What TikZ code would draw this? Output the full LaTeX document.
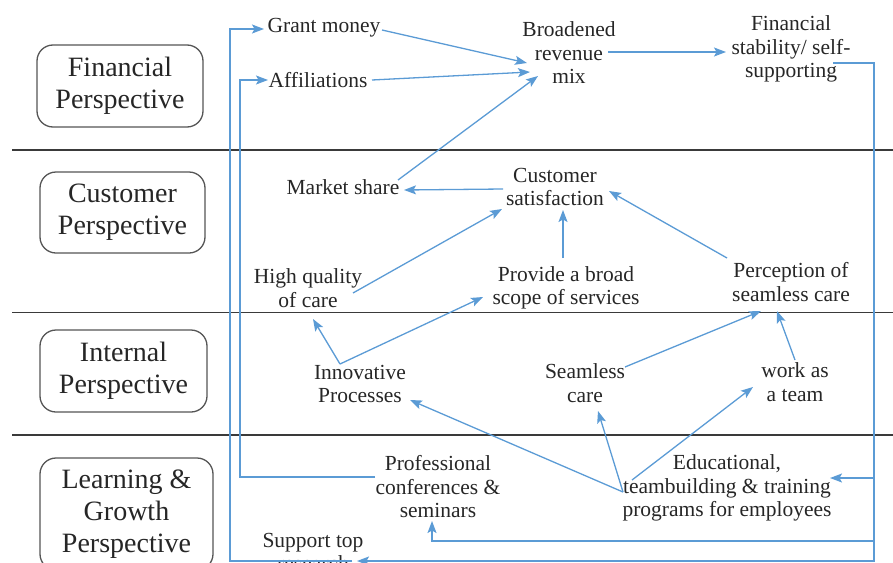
\documentclass[tikz,border=0pt]{standalone}
\usepackage{fontspec}
\setmainfont{Liberation Serif}
\usetikzlibrary{arrows.meta}
\definecolor{lnblue}{HTML}{5B9BD5}
\definecolor{rulegray}{HTML}{3A3A3A}
\definecolor{boxgray}{HTML}{555555}
\begin{document}
\begin{tikzpicture}[x=1pt,y=-1pt,
  persp/.style={draw=boxgray, line width=1.3pt, rounded corners=16pt, align=center, inner sep=0pt, font=\fontsize{28}{32}\selectfont, text=black!85},
  lbl/.style={align=center, inner sep=0pt, font=\fontsize{21.5}{23.5}\selectfont, text=black!85},
  rulel/.style={draw=rulegray, line width=1.6pt},
  link/.style={draw=lnblue, line width=1.3pt},
  arr/.style={link, -{Stealth[length=12pt,width=9pt,inset=2.5pt]}}]

\useasboundingbox (0,0) rectangle (893,562);
\clip (0,0) rectangle (893,562);

% lane rules
\draw[rulel] (12,150) -- (893,150);
\draw[rulel] (12,312.5) -- (893,312.5);
\draw[rulel] (12,435) -- (893,435);

% perspective boxes
\node[persp, minimum width=166pt, minimum height=82pt] (pfin) at (120,86) {Financial\\Perspective};
\node[persp, minimum width=165pt, minimum height=81pt] (pcus) at (122.5,212.5) {Customer\\Perspective};
\node[persp, minimum width=167pt, minimum height=82pt] (pint) at (123.5,371) {Internal\\Perspective};
\node[persp, minimum width=173pt, minimum height=112pt] (plrn) at (126.5,514) {Learning \&\\Growth\\Perspective};

% text nodes
\node[lbl] (gm) at (324,28) {Grant money};
\node[lbl] (af) at (318,80.5) {Affiliations};
\node[lbl] (bm) at (569,53) {Broadened\\revenue\\mix};
\node[lbl] (fs) at (791,49) {Financial\\stability/ self-\\supporting};
\node[lbl] (ms) at (343,187) {Market share};
\node[lbl] (cs) at (555,187) {Customer\\satisfaction};
\node[lbl] (hq) at (308,288) {High quality\\of care};
\node[lbl] (pb) at (566,288) {Provide a broad\\scope of services};
\node[lbl] (pc) at (791,282) {Perception of\\seamless care};
\node[lbl] (ip) at (360,384) {Innovative\\Processes};
\node[lbl] (sc) at (585,383) {Seamless\\care};
\node[lbl] (wt) at (795,382) {work as\\a team};
\node[lbl] (pcs) at (438,487) {Professional\\conferences \&\\seminars};
\node[lbl] (ed) at (727,488) {Educational,\\teambuilding \& training\\programs for employees};
\node[lbl] (sr) at (313,552) {Support top\\research};

% connector end points
\coordinate (gmO) at (382,30);   \coordinate (bmA) at (527,63);
\coordinate (afO) at (372,80);   \coordinate (bmB) at (530,72);
\coordinate (msO) at (398,180);  \coordinate (bmC) at (538,76);
\coordinate (bmO) at (608,52);   \coordinate (fsI) at (726,52);
\coordinate (fsO) at (833,63);
\coordinate (rx1) at (874,63);   \coordinate (rx2) at (874,478);
\coordinate (rx3) at (874,541);  \coordinate (rx4) at (874,561);
\coordinate (edI) at (830,478);
\coordinate (sm1) at (432,541);  \coordinate (pcsI) at (432,521);
\coordinate (srI) at (357,561);  \coordinate (srO) at (352,561);
\coordinate (lx1) at (230,561);  \coordinate (lx2) at (230,29);
\coordinate (gmI) at (264,29);
\coordinate (pcsO) at (375,477); \coordinate (lv1) at (240,477);
\coordinate (lv2) at (240,80);   \coordinate (afI) at (268,80);
\coordinate (csO) at (503,189);  \coordinate (msI) at (404,190);
\coordinate (hqO) at (353,293);  \coordinate (csA) at (502,209);
\coordinate (pbO) at (563,258);  \coordinate (csB) at (563,210);
\coordinate (pcO) at (727,258);  \coordinate (csC) at (609,191);
\coordinate (ipO) at (340,364);  \coordinate (hqI) at (313,319);
\coordinate (pbI) at (483,297);
\coordinate (scO) at (625,367);  \coordinate (pcA) at (761,311);
\coordinate (wtO) at (795,360);  \coordinate (pcB) at (777,311);
\coordinate (edH) at (623,492);  \coordinate (ipI) at (410,400);
\coordinate (scI) at (598,411);
\coordinate (edH2) at (632,480); \coordinate (wtI) at (753,387);

% financial lane
\draw[arr] (gmO) -- (bmA);
\draw[arr] (afO) -- (bmB);
\draw[arr] (msO) -- (bmC);
\draw[arr] (bmO) -- (fsI);

% feedback from financial stability
\draw[arr] (fsO) -- (rx1) -- (rx2) -- (edI);
\draw[arr] (rx2) -- (rx3) -- (sm1) -- (pcsI);
\draw[arr] (rx3) -- (rx4) -- (srI);

% learning loops to financial
\draw[arr] (srO) -- (lx1) -- (lx2) -- (gmI);
\draw[arr] (pcsO) -- (lv1) -- (lv2) -- (afI);

% customer lane
\draw[arr] (csO) -- (msI);
\draw[arr] (hqO) -- (csA);
\draw[arr] (pbO) -- (csB);
\draw[arr] (pcO) -- (csC);

% internal lane
\draw[arr] (ipO) -- (hqI);
\draw[arr] (ipO) -- (pbI);
\draw[arr] (scO) -- (pcA);
\draw[arr] (wtO) -- (pcB);

% learning lane
\draw[arr] (edH) -- (ipI);
\draw[arr] (edH) -- (scI);
\draw[arr] (edH2) -- (wtI);
\end{tikzpicture}
\end{document}
